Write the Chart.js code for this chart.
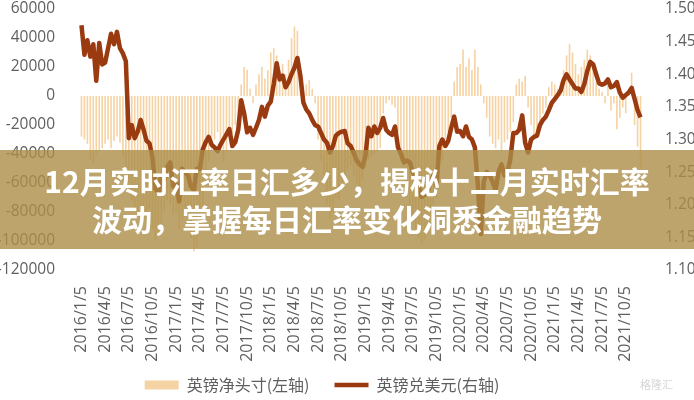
<!DOCTYPE html>
<html>
<head>
<meta charset="utf-8">
<script src="https://cdn.jsdelivr.net/npm/chart.js@4.4.1/dist/chart.umd.min.js"></script>
<style>
  body { margin: 0; background: #fff; }
  #wrap { position: relative; width: 694px; height: 400px; }
  #banner {
    position: absolute; left: 0; top: 150px; width: 694px; height: 99px;
    box-sizing: border-box; padding-top: 11px;
    background: rgba(171, 141, 71, 0.8);
    color: #fff; font-family: "Noto Sans CJK SC", sans-serif;
    font-weight: 700; font-size: 30px; line-height: 38px; text-align: center;
  }
  #mark {
    position: absolute; left: 640px; top: 376px;
    font-family: "Noto Sans CJK SC", sans-serif; font-size: 11px; color: #d6d6d6;
  }
</style>
</head>
<body>
<div id="wrap">
  <canvas id="c" width="694" height="400"></canvas>
  <div id="banner">12月实时汇率日汇多少，揭秘十二月实时汇率<br>波动，掌握每日汇率变化洞悉金融趋势</div>
  <div id="mark">格隆汇</div>
</div>
<script>
// quarterly tick labels, 8 samples per quarter
const quarterLabels = ['2016/1/5','2016/4/5','2016/7/5','2016/10/5','2017/1/5','2017/4/5','2017/7/5','2017/10/5',
  '2018/1/5','2018/4/5','2018/7/5','2018/10/5','2019/1/5','2019/4/5','2019/7/5','2019/10/5',
  '2020/1/5','2020/4/5','2020/7/5','2020/10/5','2021/1/5','2021/4/5','2021/7/5','2021/10/5'];
const perQuarter = 8;

// 英镑净头寸 (left axis)
const netPos = [
  -28000, -30000, -33000, -44000, -46000, -40000, -38000, -36000,
  -33000, -30000, -36000, -31000, -28000, -32000, -42000, -52000,
  -60000, -72000, -78000, -82000, -90000, -86000, -80000, -78000,
  -92000, -100000, -96000, -88000, -80000, -72000, -75000, -82000,
  -80000, -92000, -85000, -78000, -82000, -98000, -107000, -104000,
  -90000, -78000, -60000, -45000, -38000, -30000, -25000, -33000,
  -45000, -38000, -30000, -26000, -20000, -15000, 8000, 20000,
  18000, 5000, -5000, 8000, 15000, 20000, 12000, 18000,
  30000, 33000, 28000, 18000, 22000, 15000, 25000, 40000,
  48000, 45000, 10000, -3000, 8000, 11000, 5000, -5000,
  -30000, -45000, -60000, -75000, -85000, -80000, -70000, -72000,
  -60000, -55000, -50000, -48000, -55000, -60000, -65000, -58000,
  -50000, -45000, -42000, -40000, -38000, -36000, -12000, -5000,
  -3000, -6000, -8000, -25000, -45000, -60000, -70000, -75000,
  -85000, -92000, -98000, -102000, -100000, -95000, -85000, -75000,
  -70000, -60000, -45000, -30000, -25000, -15000, 10000, 20000,
  22000, 32000, 20000, 26000, 18000, 32000, 20000, 8000,
  -5000, -15000, -28000, -33000, -36000, -30000, -38000, -32000,
  -30000, -25000, -18000, 8000, 12000, 10000, 14000, -8000,
  -20000, -30000, -25000, -18000, -12000, -8000, 6000, 10000,
  8000, 5000, 10000, 18000, 28000, 36000, 30000, 22000,
  15000, 20000, 25000, 32000, 28000, 20000, 10000, 5000,
  3000, -5000, 8000, -10000, -5000, -23000, -15000, -8000,
  -12000, 5000, 16000, -20000, -35000, -50000
];

// 英镑兑美元 (right axis)
const gbpusd = [
  1.475, 1.430, 1.452, 1.427, 1.446, 1.390, 1.448, 1.415,
  1.418, 1.440, 1.462, 1.446, 1.465, 1.440, 1.432, 1.420,
  1.302, 1.322, 1.302, 1.312, 1.330, 1.315, 1.298, 1.294,
  1.272, 1.225, 1.218, 1.245, 1.238, 1.258, 1.265, 1.228,
  1.232, 1.205, 1.255, 1.250, 1.245, 1.228, 1.222, 1.255,
  1.255, 1.285, 1.296, 1.304, 1.292, 1.288, 1.282, 1.292,
  1.300, 1.308, 1.316, 1.290, 1.296, 1.315, 1.360, 1.340,
  1.311, 1.318, 1.307, 1.318, 1.330, 1.350, 1.335, 1.352,
  1.358, 1.385, 1.417, 1.392, 1.398, 1.380, 1.388, 1.400,
  1.410, 1.425, 1.398, 1.357, 1.346, 1.340, 1.330, 1.322,
  1.320, 1.310, 1.300, 1.295, 1.280, 1.290, 1.306, 1.310,
  1.312, 1.313, 1.294, 1.290, 1.280, 1.268, 1.262, 1.258,
  1.275, 1.318, 1.305, 1.320, 1.310, 1.318, 1.333, 1.315,
  1.310, 1.307, 1.320, 1.288, 1.278, 1.265, 1.268, 1.265,
  1.250, 1.243, 1.230, 1.212, 1.215, 1.218, 1.235, 1.245,
  1.230, 1.290, 1.300, 1.290, 1.298, 1.318, 1.335, 1.312,
  1.313, 1.305, 1.320, 1.304, 1.300, 1.288, 1.230, 1.155,
  1.235, 1.250, 1.245, 1.235, 1.222, 1.250, 1.262, 1.245,
  1.250, 1.270, 1.310, 1.310, 1.315, 1.337, 1.295, 1.280,
  1.300, 1.304, 1.306, 1.322, 1.330, 1.335, 1.345, 1.356,
  1.362, 1.368, 1.375, 1.391, 1.400, 1.392, 1.385, 1.378,
  1.378, 1.373, 1.385, 1.405, 1.419, 1.415, 1.400, 1.386,
  1.384, 1.386, 1.392, 1.380, 1.382, 1.388, 1.372, 1.364,
  1.368, 1.372, 1.379, 1.362, 1.345, 1.334
];

const labels = netPos.map((v, i) => i % perQuarter === 0 ? quarterLabels[i / perQuarter] : '');

const tickFont = { family: 'Open Sans', size: 15.5 };
const grey = '#5f5f5f';

// legend sits a bit left of centre in the original; x labels run into the legend band
const layoutTweak = {
  id: 'layoutTweak',
  afterLayout(chart) {
    chart.legend.left -= 25;
    chart.legend.right -= 25;
    chart.scales.x.bottom += 10;
  }
};

function noPad(scale) {
  scale.paddingTop = 0;
  scale.paddingBottom = 0;
}

new Chart(document.getElementById('c').getContext('2d'), {
  type: 'bar',
  data: {
    labels: labels,
    datasets: [{
      label: '英镑净头寸(左轴)',
      data: netPos,
      backgroundColor: '#f6d3a5',
      borderWidth: 0,
      barPercentage: 0.55,
      categoryPercentage: 1,
      pointStyle: 'rect',
      yAxisID: 'y',
      order: 2
    }, {
      type: 'line',
      label: '英镑兑美元(右轴)',
      data: gbpusd,
      borderColor: '#9a3a10',
      backgroundColor: '#9a3a10',
      borderWidth: 4.5,
      borderJoinStyle: 'round',
      pointRadius: 0,
      pointStyle: 'line',
      tension: 0,
      yAxisID: 'y1',
      order: 1
    }]
  },
  plugins: [layoutTweak],
  options: {
    responsive: false,
    animation: false,
    layout: { padding: { top: 9, right: 0, bottom: -3, left: 0 } },
    plugins: {
      tooltip: { enabled: false },
      legend: {
        position: 'bottom',
        labels: {
          usePointStyle: true,
          pointStyleWidth: 34,
          boxHeight: 9,
          padding: 25,
          color: grey,
          font: { family: 'Noto Sans CJK SC', size: 16 },
          sort: (a, b) => a.datasetIndex - b.datasetIndex
        }
      }
    },
    scales: {
      x: {
        offset: true,
        grid: { display: false },
        border: { display: false },
        afterFit: function(scale) {
          scale.height = 82;
          scale.paddingLeft = 0;
          scale.paddingRight = 0;
        },
        ticks: {
          autoSkip: false,
          minRotation: 90,
          maxRotation: 90,
          padding: 8,
          color: grey,
          font: { family: 'Open Sans', size: 16 }
        }
      },
      y: {
        position: 'left',
        min: -120000,
        max: 60000,
        grid: { display: false },
        border: { display: false },
        afterFit: function(scale) { scale.width = 80; noPad(scale); },
        ticks: {
          stepSize: 20000,
          padding: 17,
          color: grey,
          font: tickFont,
          callback: v => String(v)
        }
      },
      y1: {
        position: 'right',
        min: 1.10,
        max: 1.50,
        grid: { display: false },
        border: { display: false },
        afterFit: function(scale) { scale.width = 52; noPad(scale); },
        ticks: {
          stepSize: 0.05,
          padding: 15,
          color: grey,
          font: tickFont,
          callback: v => v.toFixed(2)
        }
      }
    }
  }
});
</script>
</body>
</html>
